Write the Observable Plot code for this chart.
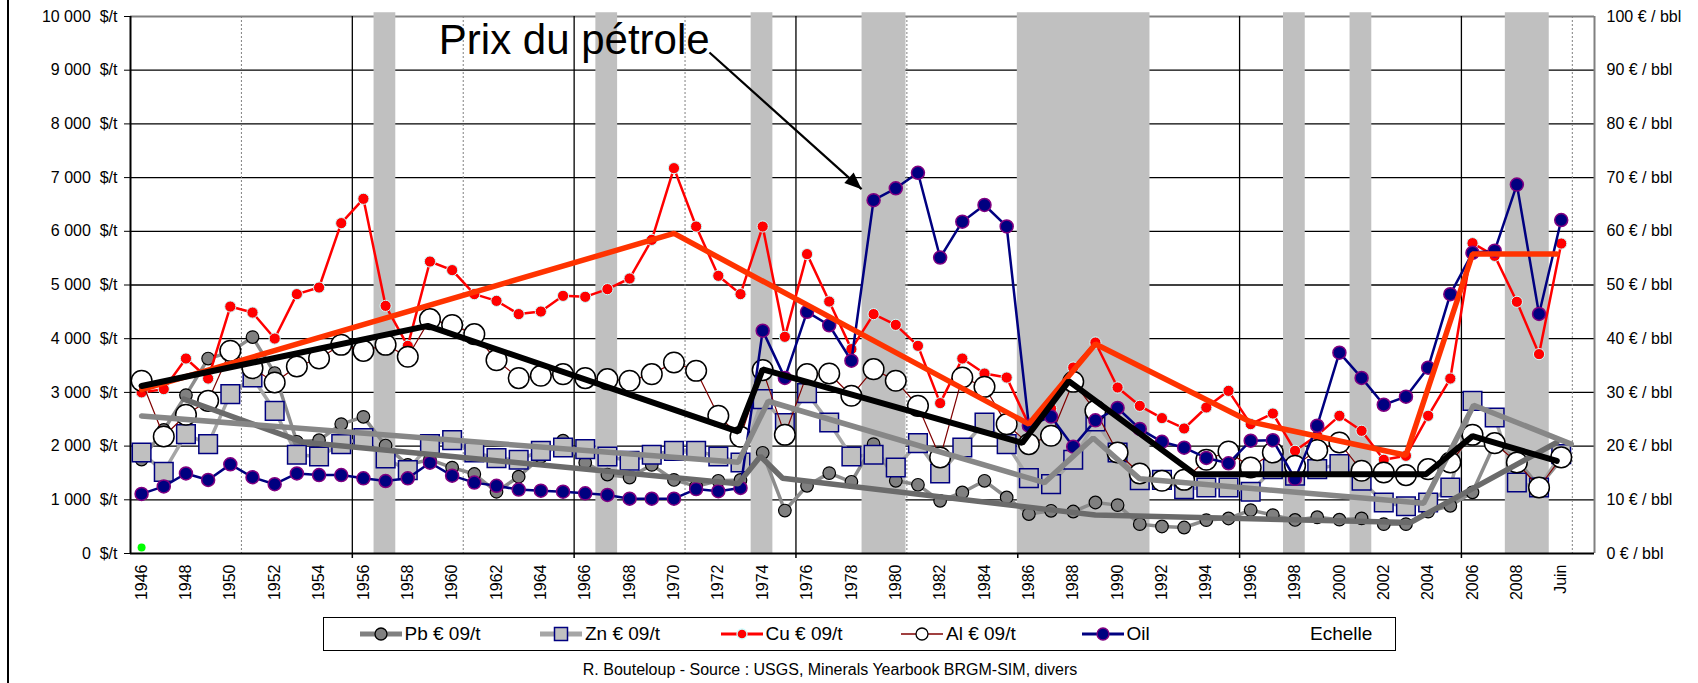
<!DOCTYPE html>
<html><head><meta charset="utf-8">
<script src="https://cdn.jsdelivr.net/npm/d3@7"></script>
<script src="https://cdn.jsdelivr.net/npm/@observablehq/plot@0.6"></script>
<style>
body{margin:0;background:#fff;font-family:"Liberation Sans",Arial,sans-serif;}
#wrap{position:relative;width:1698px;height:683px;overflow:hidden;background:#fff;}
#frame{position:absolute;left:7px;top:0;width:2px;height:683px;background:#000;}
#chart{position:absolute;left:0;top:0;}
#legend{position:absolute;left:323px;top:617px;width:1071px;height:32px;border:1.5px solid #000;background:#fff;}
.item{position:absolute;top:0;height:32px;display:flex;align-items:center;font-size:19px;color:#000;white-space:nowrap;}
.item svg{margin-right:3px;}
#caption{position:absolute;left:330px;width:1000px;top:661px;text-align:center;font-size:16px;color:#000;}
</style></head>
<body><div id="wrap"><div id="frame"></div><div id="chart"></div><div id="legend"></div><div id="caption">R. Bouteloup - Source : USGS, Minerals Yearbook BRGM-SIM, divers</div></div>
<script>
const years = d3.range(1946, 2011); // 2010 = "Juin"
const pb = [1750,2300,2950,3630,3750,4030,3360,2080,2110,2410,2545,2010,1650,1750,1600,1480,1150,1430,1800,2100,
  1690,1470,1415,1650,1370,1250,1354,1370,1875,800,1261,1497,1335,2037,1354,1279,981,1136,1354,1043,
  734,795,782,950,901,547,503,484,622,652,808,715,625,675,630,655,547,547,780,888,1140,2050,1750,1250,1750];
const zn = [1881,1521,2223,2037,2968,3277,2657,1838,1806,2037,2150,1769,1553,2037,2111,1881,1776,1745,1912,1974,
  1943,1806,1726,1838,1912,1912,1806,1694,2875,2428,2987,2439,1806,1838,1601,2055,1490,1974,2439,2037,
  1404,1292,1745,2458,1881,1367,1372,1199,1229,1229,1149,1571,1450,1571,1664,1354,950,880,950,1229,2843,2533,1322,1229,1850];
const cu = [3000,3061,3631,3258,4599,4487,4003,4830,4953,6152,6605,4612,3867,5437,5277,4830,4705,4458,4506,4798,
  4780,4923,5121,5841,7176,6089,5171,4830,6089,4035,5575,4692,3806,4458,4258,3867,2800,3631,3352,3277,
  2400,2700,3463,3929,3091,2750,2521,2328,2719,3029,2409,2607,1912,2200,2564,2285,1745,1819,2564,3258,5779,5543,4687,3713,5772];
const al = [3216,2179,2583,2843,3774,3452,3184,3482,3631,3886,3774,3886,3663,4364,4253,4085,3601,3266,3309,3340,
  3266,3247,3216,3340,3557,3402,2564,2173,3415,2210,3340,3352,2937,3433,3216,2750,1787,3277,3104,2409,
  2037,2192,3197,2657,1881,1490,1354,1372,1745,1899,1601,1881,1633,1925,2067,1540,1508,1460,1571,1694,2210,2055,1694,1229,1790];
const oil = [11.1,12.5,14.9,13.7,16.6,14.2,12.9,14.9,14.6,14.6,14.0,13.5,14.0,16.9,14.5,13.2,12.6,11.9,11.7,11.5,
  11.2,10.9,10.2,10.2,10.2,12.0,11.6,12.2,41.5,32.7,45.0,42.5,35.9,65.8,68.0,70.9,55.1,61.8,64.9,60.9,
  23.8,25.5,19.9,24.8,27.1,23.2,20.8,19.7,17.8,16.8,21.0,21.1,13.9,23.8,37.4,32.7,27.7,29.2,34.6,48.3,56.0,56.4,68.7,44.6,62.1];

// trend lines (year, value)
const pbTrendYears = [1947.9,1953.3,1972.9,1973.9,1974.9,1989,2003.2,2009.8];
const pbTrendValues = [2875,2070,1300,1810,1400,715,575,2067];
const znTrendYears = [1946,1972.9,1974.25,1986.7,1988.9,1991,2003.8,2006.05,2010.45];
const znTrendValues = [2560,1700,2835,1320,2150,1390,935,2760,2037];
const cuTrendYears = [1946,1970,1986,1989,1996,2003,2006,2009.8];
const cuTrendValues = [3050,5960,2410,3900,2450,1830,5575,5575];
const alTrendYears = [1946,1958.9,1972.9,1974,1985.7,1987.8,1993.5,2003.9,2006,2009.8];
const alTrendValues = [3120,4240,2270,3430,2060,3210,1475,1475,2185,1725];

// shaded periods
const bandStart = [1957,1967,1974,1979,1986,1998,2001,2008];
const bandEnd   = [1957,1967,1974,1980,1991,1998,2001,2009];

// axis ticks
const yTicks = d3.range(0, 10001, 1000);
const xTickYears = d3.range(1946, 2011, 2);
const solidGrid = [1955.5,1965.5,1975.5,1985.5,1995.5,2005.5];
const dashGrid = [1950.5,1960.5,1970.5,1980.5,1990.5,2000.5,2010.5];

// annotation
const annotText = "Prix du pétrole";
const annotPos = {x: 1959.4, y: 9300};
const arrowFrom = {x: 1971.6, y: 9330};
const arrowTo = {x: 1978.46, y: 6785};

const rows = years.map((y, i) => ({year: y, pb: pb[i], zn: zn[i], cu: cu[i], al: al[i], oil: oil[i] * 100}));
const mk = (ys, vs) => ys.map((y, i) => ({year: y, v: vs[i]}));
const pbT = mk(pbTrendYears, pbTrendValues), znT = mk(znTrendYears, znTrendValues),
      cuT = mk(cuTrendYears, cuTrendValues), alT = mk(alTrendYears, alTrendValues);
const bands = bandStart.map((s, i) => ({s, e: bandEnd[i]}));

const nb = "\u00a0";
const leftFmt = d => d3.format(",")(d).replace(/,/g, nb) + nb + nb + "$/t";
const rightFmt = d => `${d / 100}${nb}€${nb}/${nb}bbl`;

const arrowHead = {draw(ctx) { ctx.moveTo(0, 0); ctx.lineTo(-7, 17); ctx.lineTo(7, 17); ctx.closePath(); }};

const chart = Plot.plot({
  width: 1698, height: 610,
  marginLeft: 130, marginRight: 104, marginTop: 16, marginBottom: 57,
  style: {fontFamily: "'Liberation Sans', Arial, sans-serif", fontSize: "16px", color: "#000", background: "transparent"},
  x: {type: "linear", domain: [1945.5, 2011.5]},
  y: {domain: [0, 10000]},
  marks: [
    Plot.ruleY(yTicks.filter(d => d > 0 && d < 10000), {stroke: "#000", strokeWidth: 1.3}),
    Plot.ruleY([10000], {stroke: "#808080", strokeWidth: 2}),
    Plot.ruleX(solidGrid, {stroke: "#000", strokeWidth: 1.3}),
    Plot.ruleX(dashGrid, {stroke: "#808080", strokeWidth: 1, strokeDasharray: "2,2"}),
    Plot.rect(bands, {x1: d => d.s - 0.52, x2: d => d.e + 0.46, y1: () => 0, y2: () => 10070, fill: "#c0c0c0"}),
    Plot.ruleX([1945.5], {stroke: "#000", strokeWidth: 2}),
    Plot.ruleX([2011.5], {stroke: "#808080", strokeWidth: 2}),
    Plot.ruleY([0], {stroke: "#000", strokeWidth: 2}),
    Plot.axisY({ticks: yTicks, tickFormat: leftFmt, tickSize: 6, tickPadding: 7, label: null, fontSize: 16}),
    Plot.axisY({anchor: "right", ticks: yTicks, tickFormat: rightFmt, tickSize: 0, tickPadding: 12, label: null, fontSize: 16}),
    Plot.axisX({ticks: xTickYears, tickFormat: d => d === 2010 ? "Juin" : String(d), tickRotate: -90, tickSize: 0, tickPadding: 11, label: null, fontSize: 16}),
    Plot.axisX({ticks: solidGrid, tickFormat: () => "", tickSize: 5, strokeWidth: 1.5, label: null}),
    // Pb
    Plot.line(rows, {x: "year", y: "pb", stroke: "#8c8c8c", strokeWidth: 3.5}),
    Plot.dot(rows, {x: "year", y: "pb", r: 6.3, fill: "#808080", stroke: "#000", strokeWidth: 1.2}),
    // Zn
    Plot.line(rows, {x: "year", y: "zn", stroke: "#a6a6a6", strokeWidth: 3.5}),
    Plot.dot(rows, {x: "year", y: "zn", symbol: "square", r: 10.5, fill: "#c0c0c0", stroke: "#000080", strokeWidth: 1.5}),
    // Cu
    Plot.line(rows, {x: "year", y: "cu", stroke: "#ff0000", strokeWidth: 2.5}),
    Plot.dot(rows, {x: "year", y: "cu", r: 5.6, fill: "#ff0000", stroke: "#ccffff", strokeWidth: 1}),
    // Al
    Plot.line(rows, {x: "year", y: "al", stroke: "#800000", strokeWidth: 1.2}),
    Plot.dot(rows, {x: "year", y: "al", r: 10.3, fill: "#fff", stroke: "#000", strokeWidth: 1.5}),
    // Oil (right axis, x100)
    Plot.line(rows, {x: "year", y: "oil", stroke: "#000080", strokeWidth: 2.5}),
    Plot.dot(rows, {x: "year", y: "oil", r: 6.5, fill: "#000080", stroke: "#800080", strokeWidth: 1.5}),
    // Echelle
    Plot.dot([{year: 1946, v: 110}], {x: "year", y: "v", r: 4, fill: "#00ff00"}),
    // trends
    Plot.line(pbT, {x: "year", y: "v", stroke: "#6b6b6b", strokeWidth: 5.5, strokeLinejoin: "miter"}),
    Plot.line(znT, {x: "year", y: "v", stroke: "#878787", strokeWidth: 5.5, strokeLinejoin: "miter"}),
    Plot.line(cuT, {x: "year", y: "v", stroke: "#ff3300", strokeWidth: 5.5, strokeLinejoin: "miter"}),
    Plot.line(alT, {x: "year", y: "v", stroke: "#000", strokeWidth: 6, strokeLinejoin: "miter"}),
    // annotation
    Plot.text([annotPos], {x: "x", y: "y", text: () => annotText, fontSize: 42, textAnchor: "start", lineAnchor: "bottom", fill: "#000"}),
    Plot.link([{x1: arrowFrom.x, y1: arrowFrom.y, x2: arrowTo.x, y2: arrowTo.y}], {x1: "x1", y1: "y1", x2: "x2", y2: "y2", stroke: "#000", strokeWidth: 2.2}),
    Plot.dot([arrowTo], {x: "x", y: "y", symbol: arrowHead, r: 5, rotate: 132, fill: "#000", stroke: "none"})
  ]
});
document.getElementById("chart").appendChild(chart);

// legend
const legendItems = [
  {label: "Pb € 09/t", line: "#808080", lw: 5, mark: "circle", fill: "#808080", stroke: "#000", r: 6},
  {label: "Zn € 09/t", line: "#a6a6a6", lw: 5, mark: "square", fill: "#c0c0c0", stroke: "#000080", r: 6.5},
  {label: "Cu € 09/t", line: "#ff0000", lw: 3, mark: "circle", fill: "#ff0000", stroke: "#ccffff", r: 5},
  {label: "Al € 09/t", line: "#800000", lw: 1.5, mark: "circle", fill: "#fff", stroke: "#000", r: 6},
  {label: "Oil", line: "#000080", lw: 3, mark: "circle", fill: "#000080", stroke: "#800080", r: 6},
  {label: "Echelle", line: null}
];
const leg = document.getElementById("legend");
legendItems.forEach((it, i) => {
  const div = document.createElement("div");
  div.className = "item";
  div.style.left = (35.5 + 180.5 * i) + "px";
  if (it.line) {
    const m = it.mark === "square"
      ? `<rect x="${21 - it.r}" y="${10 - it.r}" width="${2 * it.r}" height="${2 * it.r}" fill="${it.fill}" stroke="${it.stroke}" stroke-width="1.5"/>`
      : `<circle cx="21" cy="10" r="${it.r}" fill="${it.fill}" stroke="${it.stroke}" stroke-width="1.3"/>`;
    div.innerHTML = `<svg width="42" height="20"><line x1="0" x2="42" y1="10" y2="10" stroke="${it.line}" stroke-width="${it.lw}"/>${m}</svg><span>${it.label}</span>`;
  } else {
    div.style.left = (35.5 + 180.5 * i + 48) + "px";
    div.innerHTML = `<span>${it.label}</span>`;
  }
  leg.appendChild(div);
});
</script></body></html>
